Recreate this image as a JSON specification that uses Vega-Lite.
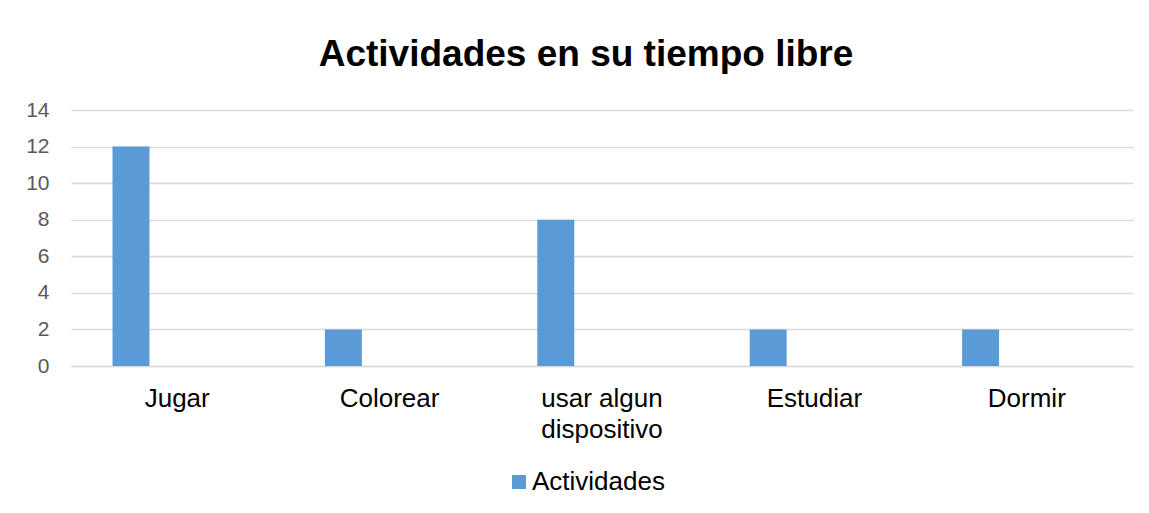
{
  "$schema": "https://vega.github.io/schema/vega-lite/v6.json",
  "autosize": "none",
  "width": 1062,
  "height": 256,
  "padding": {"left": 71, "top": 110, "right": 16, "bottom": 147},
  "background": "white",
  "title": {
    "text": "Actividades en su tiempo libre",
    "font": "Liberation Sans",
    "fontSize": 37,
    "fontWeight": "bold",
    "color": "#000000",
    "anchor": "middle",
    "dx": -16,
    "dy": 46,
    "baseline": "alphabetic",
    "offset": 42
  },
  "data": {
    "values": [
      {"categoria": "Jugar", "serie": "Actividades", "valor": 12},
      {"categoria": "Colorear", "serie": "Actividades", "valor": 2},
      {"categoria": "usar algun dispositivo", "serie": "Actividades", "valor": 8},
      {"categoria": "Estudiar", "serie": "Actividades", "valor": 2},
      {"categoria": "Dormir", "serie": "Actividades", "valor": 2}
    ]
  },
  "mark": {"type": "bar"},
  "encoding": {
    "x": {
      "field": "categoria",
      "type": "nominal",
      "sort": null,
      "scale": {"paddingInner": 0, "paddingOuter": 0},
      "axis": {
        "title": null,
        "labelAngle": 0,
        "labelFont": "Liberation Sans",
        "labelFontSize": 26,
        "labelColor": "#000000",
        "labelPadding": 19,
        "labelLineHeight": 31,
        "ticks": false,
        "domain": true,
        "domainColor": "#d9d9d9",
        "domainWidth": 1.3,
        "grid": false,
        "labelExpr": "datum.value == 'usar algun dispositivo' ? ['usar algun', 'dispositivo'] : datum.value"
      }
    },
    "xOffset": {
      "field": "serie",
      "type": "nominal",
      "scale": {"domain": ["Actividades", "Vacio"], "paddingInner": 0.6, "paddingOuter": 0.449}
    },
    "y": {
      "field": "valor",
      "type": "quantitative",
      "scale": {"domain": [0, 14], "nice": false},
      "axis": {
        "title": null,
        "values": [0, 2, 4, 6, 8, 10, 12, 14],
        "labelFont": "Liberation Sans",
        "labelFontSize": 21,
        "labelColor": "#595959",
        "labelPadding": 22,
        "ticks": false,
        "domain": false,
        "grid": true,
        "gridColor": "#d9d9d9",
        "gridWidth": 1.3
      }
    },
    "color": {
      "field": "serie",
      "type": "nominal",
      "scale": {"domain": ["Actividades"], "range": ["#5b9bd5"]},
      "legend": {
        "title": null,
        "orient": "none",
        "legendX": 435,
        "legendY": 359,
        "padding": 0,
        "symbolType": "square",
        "symbolSize": 196,
        "symbolStrokeWidth": 0,
        "labelFont": "Liberation Sans",
        "labelFontSize": 26,
        "labelColor": "#000000",
        "labelOffset": 0
      }
    }
  },
  "config": {
    "view": {"stroke": null}
  }
}
